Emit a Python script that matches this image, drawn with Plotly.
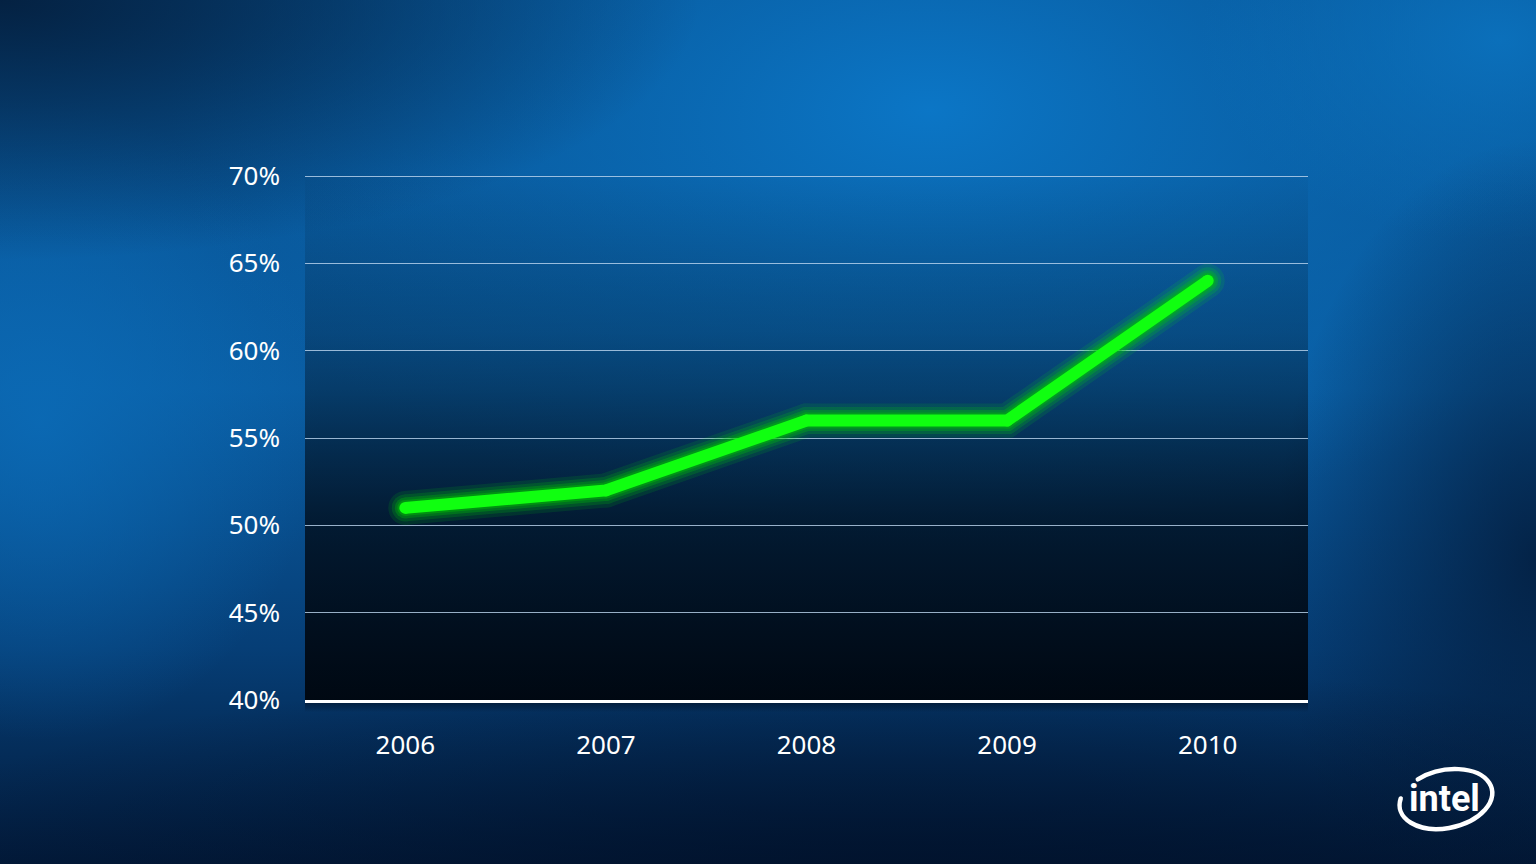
import base64
import plotly.graph_objects as go

# ---- data ----
years = ["2006", "2007", "2008", "2009", "2010"]
share = [51, 52, 56, 56, 64]
y_ticks = [40, 45, 50, 55, 60, 65, 70]
y_labels = [f"{v}%" for v in y_ticks]

W, H = 1536, 864
L, R, T, B = 305, 1308, 175, 700
PW, PH = R - L, B - T

svg = f'''<svg xmlns="http://www.w3.org/2000/svg" width="{W}" height="{H}" viewBox="0 0 {W} {H}" preserveAspectRatio="none">
<defs>
<linearGradient id="base" x1="0" y1="0" x2="0" y2="1">
 <stop offset="0" stop-color="#07508f"/>
 <stop offset="0.45" stop-color="#0a5ea4"/>
 <stop offset="0.75" stop-color="#063e76"/>
 <stop offset="1" stop-color="#021a3a"/>
</linearGradient>
<radialGradient id="hi" gradientUnits="userSpaceOnUse" cx="0" cy="0" r="1" gradientTransform="translate(930 110) scale(760 430)">
 <stop offset="0" stop-color="#0b76c6" stop-opacity="1"/>
 <stop offset="0.6" stop-color="#0a6ab4" stop-opacity="0.5"/>
 <stop offset="1" stop-color="#0a6ab4" stop-opacity="0"/>
</radialGradient>
<radialGradient id="tr" gradientUnits="userSpaceOnUse" cx="0" cy="0" r="1" gradientTransform="translate(1500 40) scale(300 200)">
 <stop offset="0" stop-color="#0b72be" stop-opacity="0.9"/>
 <stop offset="1" stop-color="#0b72be" stop-opacity="0"/>
</radialGradient>
<radialGradient id="lg" gradientUnits="userSpaceOnUse" cx="0" cy="0" r="1" gradientTransform="translate(40 420) scale(280 320)">
 <stop offset="0" stop-color="#0b6cb8" stop-opacity="0.8"/>
 <stop offset="1" stop-color="#0b6cb8" stop-opacity="0"/>
</radialGradient>
<radialGradient id="tl" gradientUnits="userSpaceOnUse" cx="0" cy="0" r="1" gradientTransform="translate(0 0) scale(700 260)">
 <stop offset="0" stop-color="#041f3e" stop-opacity="0.95"/>
 <stop offset="1" stop-color="#041f3e" stop-opacity="0"/>
</radialGradient>
<radialGradient id="rd" gradientUnits="userSpaceOnUse" cx="0" cy="0" r="1" gradientTransform="translate(1536 560) scale(260 420)">
 <stop offset="0" stop-color="#031c3c" stop-opacity="0.85"/>
 <stop offset="1" stop-color="#031c3c" stop-opacity="0"/>
</radialGradient>
<radialGradient id="bt" gradientUnits="userSpaceOnUse" cx="0" cy="0" r="1" gradientTransform="translate(900 900) scale(1100 240)">
 <stop offset="0" stop-color="#01112a" stop-opacity="0.9"/>
 <stop offset="1" stop-color="#01112a" stop-opacity="0"/>
</radialGradient>
<linearGradient id="pa" x1="0" y1="0" x2="0" y2="1">
 <stop offset="0" stop-color="#00060e" stop-opacity="0.02"/>
 <stop offset="0.3" stop-color="#00060e" stop-opacity="0.25"/>
 <stop offset="0.65" stop-color="#00060e" stop-opacity="0.7"/>
 <stop offset="1" stop-color="#00060e" stop-opacity="0.95"/>
</linearGradient>
<linearGradient id="sh" x1="0" y1="0" x2="0" y2="1">
 <stop offset="0" stop-color="#000814" stop-opacity="0.6"/>
 <stop offset="1" stop-color="#000814" stop-opacity="0"/>
</linearGradient>
</defs>
<rect x="0" y="0" width="{W}" height="{H}" fill="url(#base)"/>
<rect x="0" y="0" width="{W}" height="{H}" fill="url(#hi)"/>
<rect x="0" y="0" width="{W}" height="{H}" fill="url(#tr)"/>
<rect x="0" y="0" width="{W}" height="{H}" fill="url(#lg)"/>
<rect x="0" y="0" width="{W}" height="{H}" fill="url(#tl)"/>
<rect x="0" y="0" width="{W}" height="{H}" fill="url(#rd)"/>
<rect x="0" y="0" width="{W}" height="{H}" fill="url(#bt)"/>
<rect x="{L}" y="{T}" width="{PW}" height="{PH}" fill="url(#pa)"/>
<rect x="{L}" y="{B}" width="{PW}" height="12" fill="url(#sh)"/>
<g transform="translate(1446 799) rotate(-12)">
 <path d="M -23.5 -25.1 A 47 29 0 1 1 -44.2 -9.9" fill="none" stroke="#ffffff" stroke-width="4.5" stroke-linecap="round"/>
</g>
</svg>'''

src = "data:image/svg+xml;base64," + base64.b64encode(svg.encode()).decode()

fig = go.Figure()

glow = [(34, "#00ff00", 0.10), (27, "#00e600", 0.16), (21, "#00d000", 0.26), (16, "#00c000", 0.40)]
for w, c, op in glow:
    fig.add_trace(go.Scatter(
        x=years, y=share, mode="lines+markers",
        line=dict(color=c, width=w),
        marker=dict(color=c, size=w, line=dict(width=0)),
        opacity=op, hoverinfo="skip", showlegend=False,
    ))
fig.add_trace(go.Scatter(
    x=years, y=share, mode="lines+markers",
    line=dict(color="#10ff10", width=12),
    marker=dict(color="#10ff10", size=12, line=dict(width=0)),
    showlegend=False,
))

fig.add_annotation(
    x=(1444 - L) / PW, y=(B - 799) / PH, xref="paper", yref="paper",
    xanchor="center", yanchor="middle",
    text="<b>intel</b>", showarrow=False,
    font=dict(family="Roboto, Arial", size=36, color="white"),
)

fig.update_layout(
    width=W, height=H,
    margin=dict(l=L, r=W - R, t=T, b=H - B, pad=0),
    paper_bgcolor="#063e76",
    plot_bgcolor="rgba(0,0,0,0)",
    font=dict(family="Noto Sans, Open Sans, sans-serif", size=26, color="white"),
    images=[dict(
        source=src, xref="paper", yref="paper",
        x=-L / PW, y=1 + T / PH, sizex=W / PW, sizey=H / PH,
        xanchor="left", yanchor="top", sizing="stretch", layer="below",
    )],
    xaxis=dict(
        type="category", range=[-0.5, 4.5], showgrid=False, zeroline=False,
        showline=True, linecolor="white", linewidth=3,
        ticks="", ticklabelstandoff=20, tickfont=dict(size=26, color="white"),
        fixedrange=True,
    ),
    yaxis=dict(
        range=[40, 70.06], tickvals=y_ticks, ticktext=y_labels,
        showgrid=True, gridcolor="rgba(190,215,240,0.8)", gridwidth=1,
        zeroline=False, showline=False, ticks="", ticklabelstandoff=24,
        tickfont=dict(size=26, color="white"), fixedrange=True,
    ),
)

fig.write_html("out.html", config={"displayModeBar": False},
               post_script="document.body.style.margin='0';document.body.style.overflow='hidden';")
